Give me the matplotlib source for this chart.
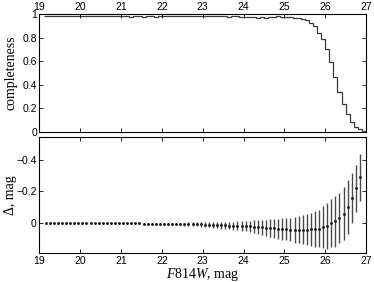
import numpy as np
import matplotlib.pyplot as plt

plt.rcParams['mathtext.fontset'] = 'custom'
plt.rcParams['mathtext.it'] = 'Liberation Serif:italic'
plt.rcParams['mathtext.rm'] = 'Liberation Serif'

# completeness per 0.1 mag bin, bins from 19.1 to 27.0
bin_edges = np.round(np.arange(19.1, 27.05, 0.1), 2)
completeness = [
    0.985, 0.987, 0.986, 0.988, 0.985, 0.987, 0.984, 0.986, 0.985,
    0.983, 0.986, 0.982, 0.985, 0.981, 0.984, 0.987, 0.983, 0.985, 0.982,
    0.984, 0.980, 0.977, 0.980, 0.982, 0.979, 0.983, 0.980, 0.978, 0.982,
    0.984, 0.986, 0.985, 0.987, 0.985, 0.986, 0.984, 0.985, 0.982, 0.984,
    0.980, 0.983, 0.981, 0.984, 0.980, 0.982, 0.978, 0.981, 0.980, 0.978,
    0.975, 0.972, 0.976, 0.971, 0.974, 0.970, 0.973, 0.976, 0.980, 0.978,
    0.977, 0.974, 0.971, 0.966, 0.960, 0.950, 0.925, 0.895, 0.840, 0.785,
    0.700, 0.595, 0.465, 0.340, 0.240, 0.155, 0.085, 0.045, 0.025, 0.008,
]

# photometric offset and its scatter, at bin centres 19.15 .. 26.85
mag_centres = np.round(np.arange(19.15, 26.9, 0.1), 2)
delta = [
    0.002, 0.002, 0.002, 0.002, 0.002, 0.002, 0.002, 0.002, 0.002,
    0.002, 0.002, 0.002, 0.002, 0.002, 0.002, 0.003, 0.003, 0.003, 0.003,
    0.003, 0.003, 0.003, 0.003, 0.003, 0.004, 0.004, 0.004, 0.004, 0.004,
    0.004, 0.005, 0.005, 0.006, 0.006, 0.007, 0.007, 0.008, 0.008, 0.009,
    0.010, 0.011, 0.012, 0.013, 0.014, 0.015, 0.016, 0.017, 0.018, 0.019,
    0.020, 0.022, 0.024, 0.026, 0.028, 0.030, 0.032, 0.034, 0.036, 0.038,
    0.040, 0.042, 0.043, 0.044, 0.044, 0.043, 0.041, 0.039, 0.035, 0.025,
    0.018, 0.003, -0.010, -0.030, -0.060, -0.100, -0.160, -0.220, -0.290,
]
delta_err = [
    0.002, 0.002, 0.002, 0.002, 0.002, 0.002, 0.002, 0.002, 0.002,
    0.003, 0.003, 0.003, 0.003, 0.003, 0.003, 0.003, 0.003, 0.003, 0.003,
    0.004, 0.004, 0.004, 0.004, 0.005, 0.005, 0.005, 0.005, 0.006, 0.006,
    0.006, 0.007, 0.007, 0.008, 0.009, 0.010, 0.011, 0.012, 0.013, 0.014,
    0.015, 0.016, 0.018, 0.019, 0.021, 0.022, 0.024, 0.026, 0.028, 0.030,
    0.032, 0.036, 0.040, 0.044, 0.048, 0.052, 0.055, 0.059, 0.063, 0.067,
    0.070, 0.074, 0.081, 0.086, 0.092, 0.097, 0.104, 0.112, 0.120, 0.132,
    0.144, 0.152, 0.160, 0.160, 0.170, 0.170, 0.160, 0.150, 0.150,
]

tick_font = {'family': 'Liberation Sans', 'size': 7.5}
label_font = {'family': 'Liberation Serif', 'size': 10}

fig = plt.figure(figsize=(3.74, 2.82), dpi=100)
ax1 = fig.add_axes([0.1056, 0.532, 0.873, 0.418])
ax2 = fig.add_axes([0.1056, 0.103, 0.873, 0.411])

# top: completeness
ax1.stairs(completeness, bin_edges, baseline=None, color='#3a3a3a',
           linewidth=0.9)
ax1.set_xlim(19, 27)
ax1.set_ylim(0, 1)
ax1.set_xticks(range(19, 28))
ax1.set_yticks([0, 0.2, 0.4, 0.6, 0.8, 1])
ax1.set_yticklabels(['0', '0.2', '0.4', '0.6', '0.8', '1'], fontdict=tick_font)
ax1.set_xticklabels([str(v) for v in range(19, 28)], fontdict=tick_font)
ax1.tick_params(top=True, labeltop=True, bottom=True, labelbottom=False,
                right=True, direction='in', length=3, width=0.6, pad=1.5)
ax1.set_ylabel('completeness', fontdict=label_font)
ax1.yaxis.set_label_coords(-0.068, 0.5)

# bottom: offset with error bars
ax2.errorbar(mag_centres, delta, yerr=delta_err, fmt='.', color='#222222',
             ecolor='#4a4a4a', elinewidth=1.0, markersize=2.2, capsize=0)
ax2.set_xlim(19, 27)
ax2.set_ylim(0.19, -0.545)
ax2.set_xticks(range(19, 28))
ax2.set_xticklabels([str(v) for v in range(19, 28)], fontdict=tick_font)
ax2.set_yticks([-0.4, -0.2, 0])
ax2.set_yticklabels(['\u22120.4', '\u22120.2', '0'], fontdict=tick_font)
ax2.tick_params(top=True, right=True, direction='in', length=3, width=0.6,
                pad=2)
ax2.set_ylabel('\u0394, mag', fontdict=label_font)
ax2.yaxis.set_label_coords(-0.068, 0.5)
ax2.set_xlabel(r'$\mathit{F814W}$, mag', fontdict=label_font, labelpad=0)

for ax in (ax1, ax2):
    for s in ax.spines.values():
        s.set_linewidth(0.8)

fig.savefig('out.png', dpi=100)
